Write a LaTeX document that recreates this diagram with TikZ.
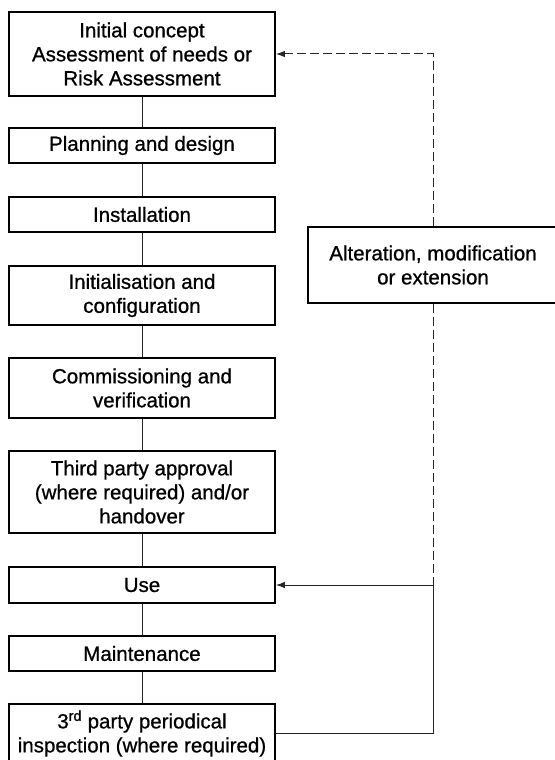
\documentclass[tikz,border=0pt]{standalone}
\usepackage{fontspec}
\setmainfont[FakeBold=0.8]{Liberation Sans}
\usetikzlibrary{arrows.meta}
\begin{document}
\begin{tikzpicture}[x=1pt,y=-1pt,
  box/.style={draw=black,line width=1.8pt,minimum width=266pt,inner sep=0pt,align=center,
    font=\fontsize{20.5}{24}\selectfont},
  conn/.style={draw=black!85,line width=1pt},
  dashline/.style={draw=black!85,line width=1pt,dash pattern=on 9pt off 4pt},
  tiparrow/.style={-{Latex[length=9pt,width=6.5pt]}}]
\useasboundingbox (0,0) rectangle (554,760);
\node[box,minimum height=84pt] (b1) at (142,54) {Initial concept\\Assessment of needs or\\Risk Assessment};
\node[box,minimum height=35pt] (b2) at (142,145.5) {Planning and design};
\node[box,minimum height=35pt] (b3) at (142,214.5) {Installation};
\node[box,minimum height=59pt] (b4) at (142,295.5) {Initialisation and\\configuration};
\node[box,minimum height=60pt] (b5) at (142,388) {Commissioning and\\verification};
\node[box,minimum height=82pt] (b6) at (142,492) {Third party approval\\(where required) and/or\\handover};
\node[box,minimum height=36pt] (b7) at (142,585) {Use};
\node[box,minimum height=35pt] (b8) at (142,653.5) {Maintenance};
\node[box,minimum height=59pt] (b9) at (142,733.5) {3\textsuperscript{rd} party periodical\\inspection (where required)};
\node[box,minimum width=250pt,minimum height=76pt] (alt) at (433,265) {Alteration, modification\\or extension};
\draw[conn] (b1) -- (b2);
\draw[conn] (b2) -- (b3);
\draw[conn] (b3) -- (b4);
\draw[conn] (b4) -- (b5);
\draw[conn] (b5) -- (b6);
\draw[conn] (b6) -- (b7);
\draw[conn] (b7) -- (b8);
\draw[conn] (b8) -- (b9);
\coordinate (ct) at (alt.north |- b1.east);
\coordinate (cu) at (alt.south |- b7.east);
\coordinate (cb) at (alt.south |- b9.east);
\draw[dashline,tiparrow] (alt.north) -- (ct) -- (b1.east);
\draw[dashline] (alt.south) -- (cu);
\draw[conn] (b9.east) -- (cb) -- (cu);
\draw[conn,tiparrow] (cu) -- (b7.east);
\end{tikzpicture}
\end{document}
